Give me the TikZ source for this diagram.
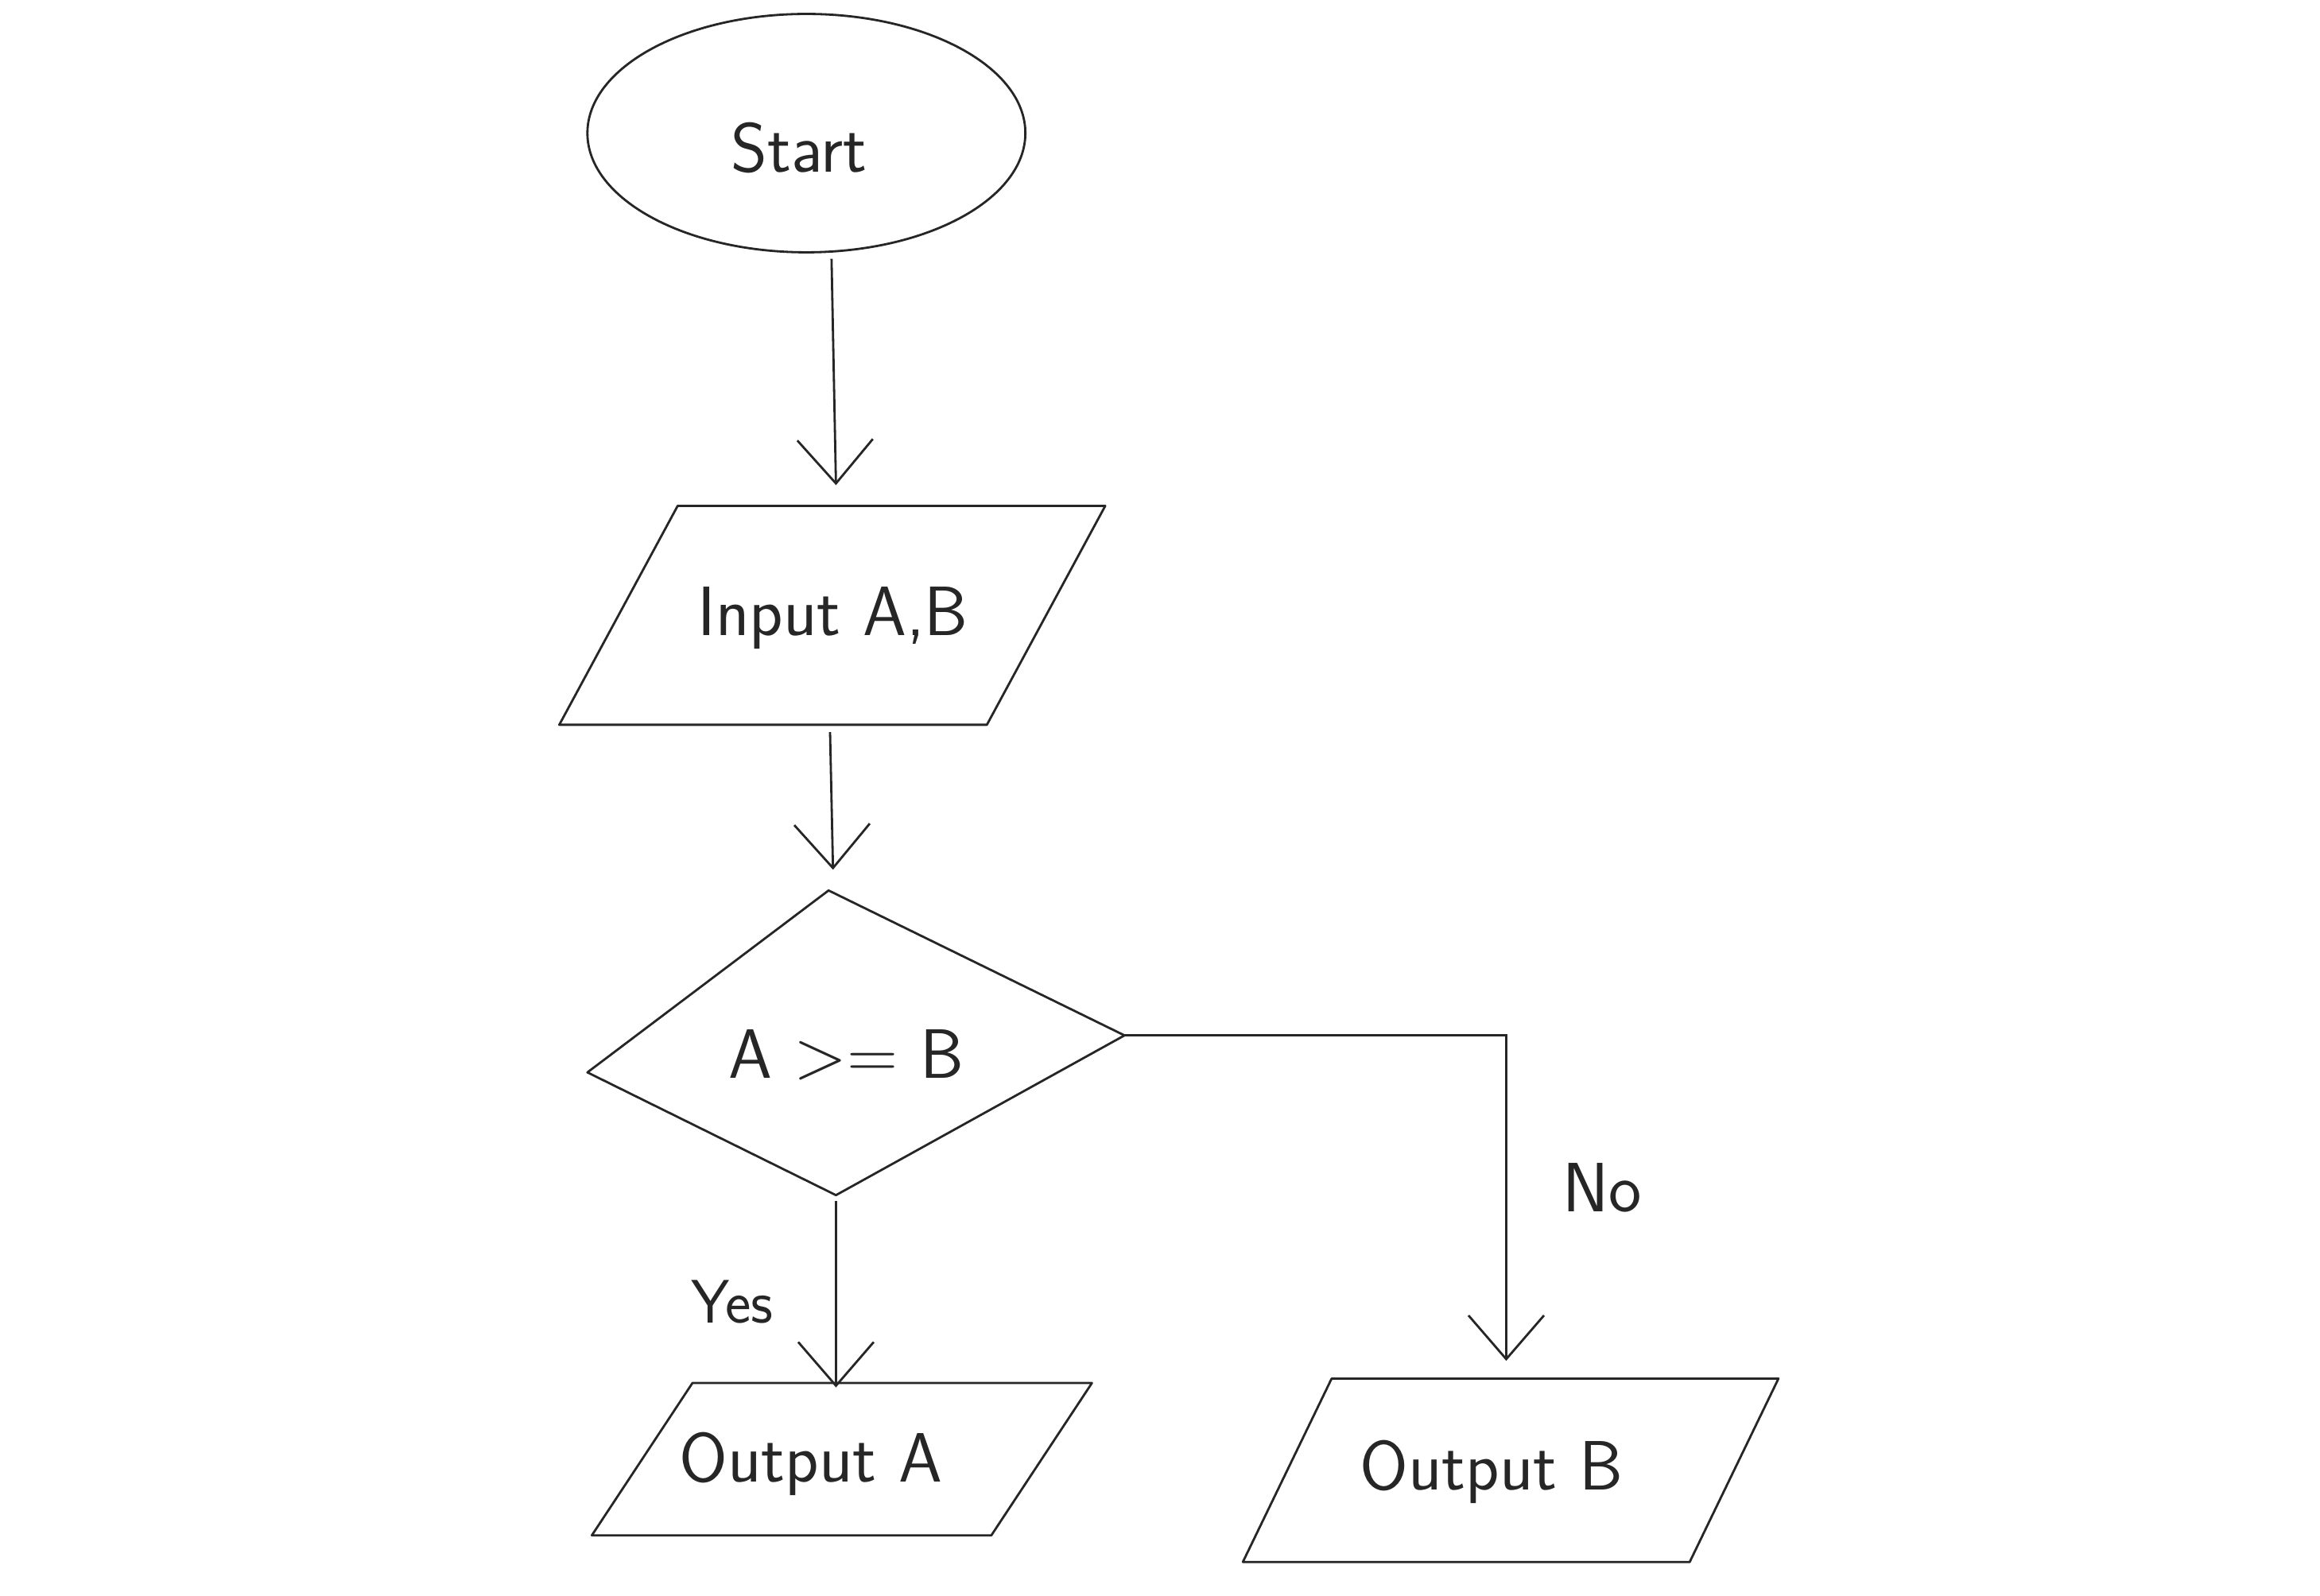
\documentclass[tikz,border=0pt]{standalone}
\usetikzlibrary{arrows.meta,shapes.geometric}
\begin{document}
\begin{tikzpicture}[x=0.01861cm,y=-0.01861cm,line width=0.8pt,
  shapeline/.style={draw=black!85,line join=round},
  flowarrow/.style={draw=black!85,-{Straight Barb[length=0.55cm,width=0.95cm,line width=0.8pt]}},
  startshape/.style={draw=black!85,ellipse,minimum width=5.51cm,minimum height=3.0cm,inner sep=0pt},
  lbl/.style={font=\sffamily\fontsize{25}{30}\selectfont,inner sep=0pt,text=black!85},
  small/.style={font=\sffamily\fontsize{22}{26}\selectfont,inner sep=0pt,text=black!85}]
\useasboundingbox (0,0) rectangle (1568,1079);

% Start
\node[startshape] (start) at (545,90) {};
\node[lbl] (starttext) at (540,100) {Start};

% Input
\draw[shapeline] (458,342) -- (747,342) -- (667,490) -- (378,490) -- cycle;
\node[lbl] (input) at (563,418) {Input A,B};

% Decision
\draw[shapeline] (560,602) -- (760,700) -- (565,808) -- (397,725) -- cycle;
\node[lbl] (decision) at (572,713) {A >= B};

% Output A
\draw[shapeline] (468,935) -- (738,935) -- (670,1038) -- (400,1038) -- cycle;
\node[lbl] (outa) at (548,990) {Output A};

% Output B
\draw[shapeline] (900,932) -- (1202,932) -- (1142,1056) -- (840,1056) -- cycle;
\node[lbl] (outb) at (1008,995) {Output B};

% connector end points
\coordinate (s1) at (562,175);
\coordinate (e1) at (565,328);
\coordinate (s2) at (561,495);
\coordinate (e2) at (563,588);
\coordinate (s3) at (565,812);
\coordinate (e3) at (565,938);
\coordinate (s4) at (760,700);
\coordinate (c4) at (1018,700);
\coordinate (e4) at (1018,920);

\draw[flowarrow] (s1) -- (e1);
\draw[flowarrow] (s2) -- (e2);
\draw[flowarrow] (s3) -- (e3);
\draw[flowarrow] (s4) -- (c4) -- (e4);

\node[small] (yes) at (495,880) {Yes};
\node[lbl] (no) at (1083,803) {No};
\end{tikzpicture}
\end{document}
